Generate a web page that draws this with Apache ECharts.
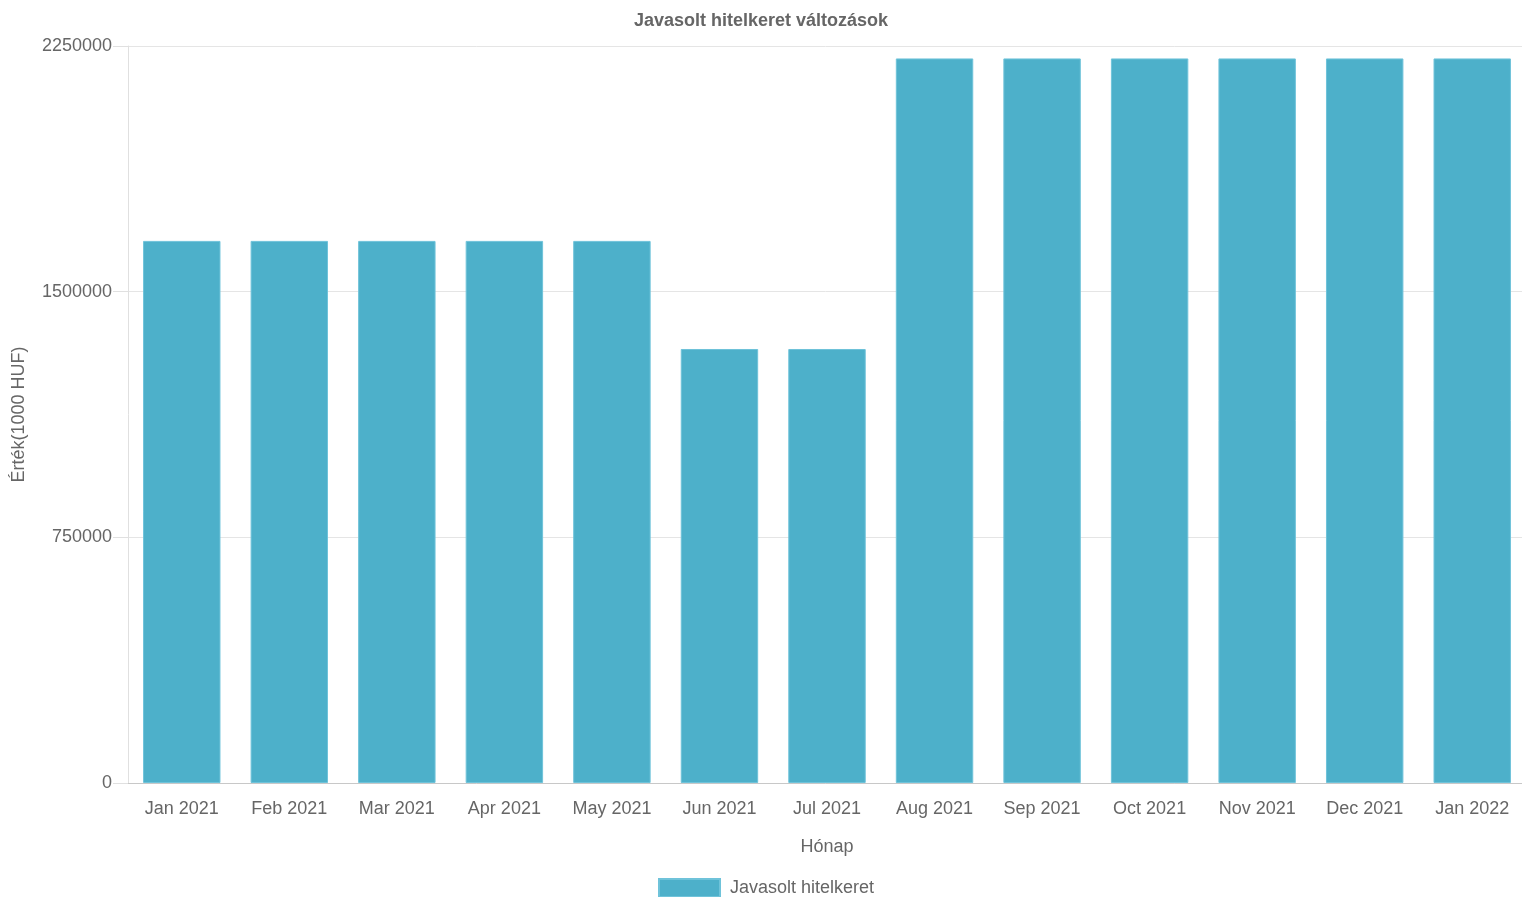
<!DOCTYPE html>
<html>
<head>
<meta charset="utf-8">
<script src="https://cdn.jsdelivr.net/npm/echarts@6/dist/echarts.min.js"></script>
<style>
html,body{margin:0;padding:0;background:#fff;}
#chart{width:1522px;height:897px;}
</style>
</head>
<body>
<div id="chart"></div>
<script>
const categories = ['Jan 2021','Feb 2021','Mar 2021','Apr 2021','May 2021','Jun 2021','Jul 2021','Aug 2021','Sep 2021','Oct 2021','Nov 2021','Dec 2021','Jan 2022'];
const values = [1655000,1655000,1655000,1655000,1655000,1325000,1325000,2212000,2212000,2212000,2212000,2212000,2212000];
const yTicks = [0, 750000, 1500000, 2250000];
const seriesName = 'Javasolt hitelkeret';

const chart = echarts.init(document.getElementById('chart'));
const font = 'Liberation Sans, Arial, Helvetica, sans-serif';
chart.setOption({
  animation: false,
  textStyle: { fontFamily: font },
  title: {
    text: 'Javasolt hitelkeret változások',
    left: 'center', top: 7,
    textStyle: { fontSize: 18, fontWeight: 'bold', color: '#666', fontFamily: font }
  },
  legend: {
    top: 873, left: 653,
    icon: 'rect',
    itemWidth: 61, itemHeight: 18, itemGap: 10,
    textStyle: { fontSize: 18, color: '#666', fontFamily: font, padding: [0, 0, 0, 5] },
    data: [seriesName]
  },
  grid: { left: 128, right: -4, top: 46, bottom: 114, containLabel: false, outerBoundsMode: 'none' },
  xAxis: {
    type: 'category',
    data: categories,
    name: 'Hónap', nameLocation: 'middle', nameGap: 55,
    nameTextStyle: { fontSize: 18, color: '#666', fontFamily: font },
    axisLine: { lineStyle: { color: '#c8c8c8' } },
    axisTick: { show: false },
    axisLabel: { fontSize: 18, color: '#666', margin: 17, interval: 0 }
  },
  yAxis: {
    type: 'value',
    min: yTicks[0], max: yTicks[yTicks.length-1], interval: yTicks[1]-yTicks[0],
    name: 'Érték(1000 HUF)', nameLocation: 'middle', nameGap: 100,
    nameTextStyle: { fontSize: 18, color: '#666', fontFamily: font },
    axisLine: { show: true, lineStyle: { color: '#e0e0e0' } },
    axisTick: { show: true, length: 15, lineStyle: { color: '#e0e0e0' } },
    axisLabel: { fontSize: 18, color: '#666', margin: 16, formatter: v => String(v) },
    splitLine: { lineStyle: { color: '#e5e5e5' } }
  },
  series: [{
    name: seriesName,
    type: 'bar',
    data: values,
    barCategoryGap: '28%',
    itemStyle: { color: '#4db0ca', borderColor: '#6fc3da', borderWidth: 1 }
  }]
});
</script>
</body>
</html>
